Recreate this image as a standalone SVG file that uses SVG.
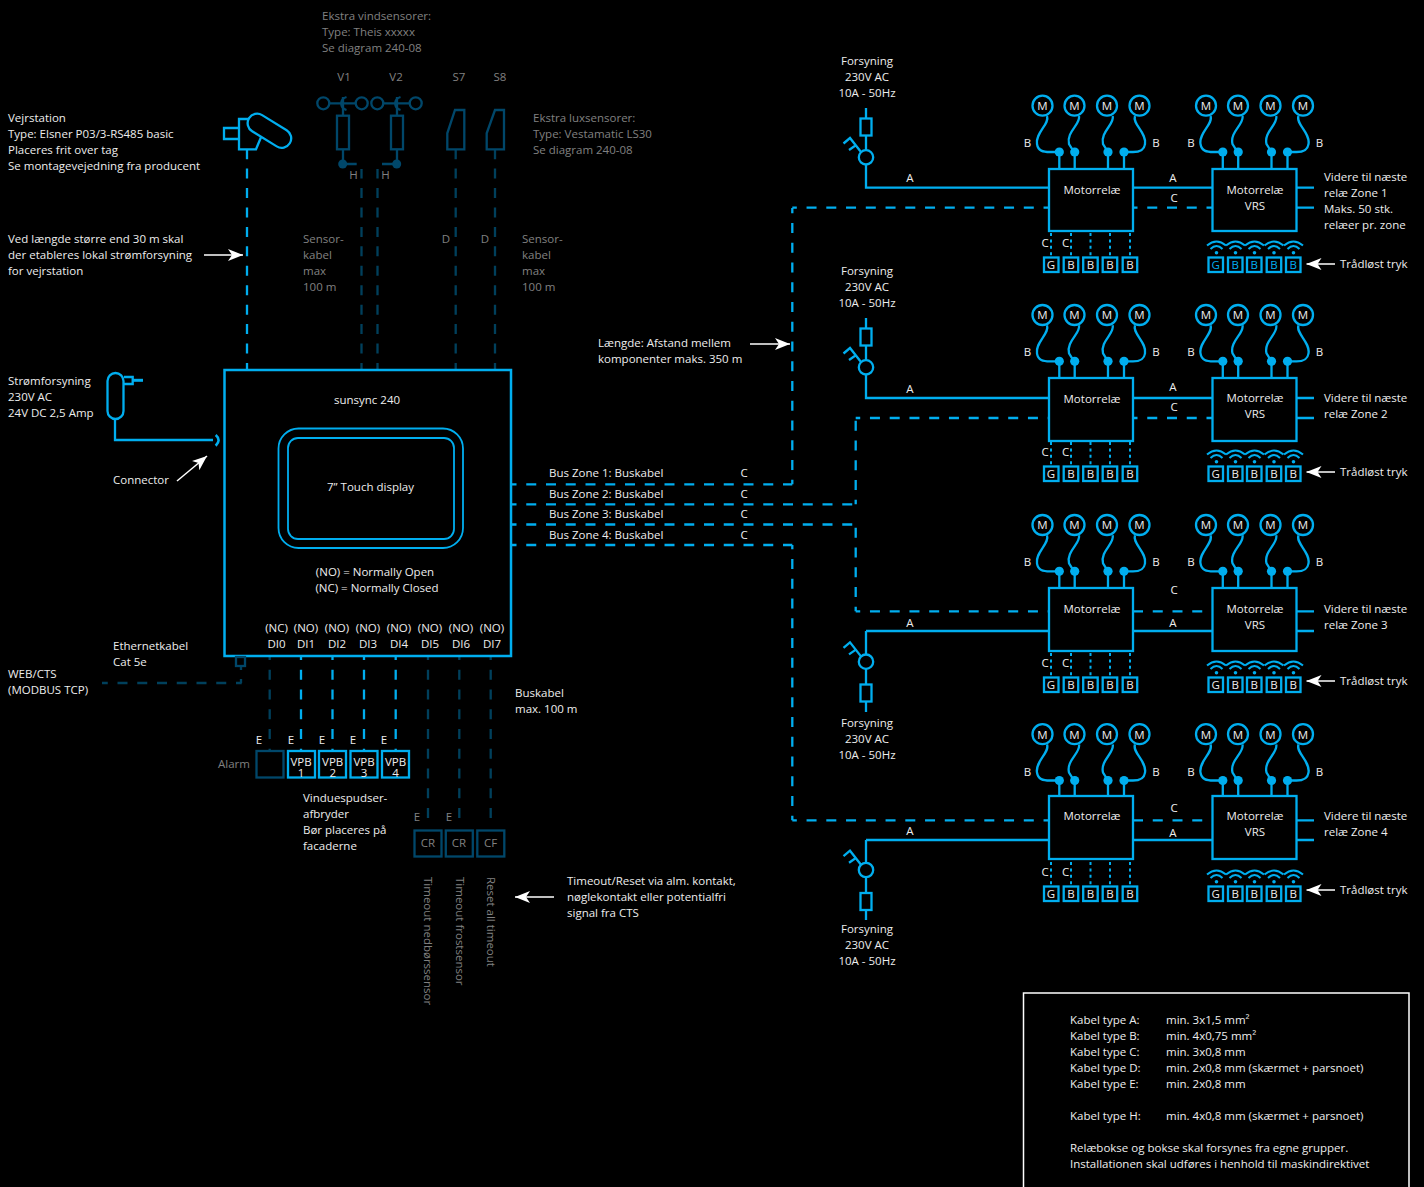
<svg xmlns="http://www.w3.org/2000/svg" width="1424" height="1187" viewBox="0 0 1424 1187">
<style>
text{font-family:"Open Sans","Noto Sans","Liberation Sans",sans-serif;font-size:11.5px;fill:#ededed}
.g{fill:#808080}
.m{text-anchor:middle}
.s{fill:none;stroke:#00aeef;stroke-width:2.3}
.th{fill:none;stroke:#00aeef;stroke-width:1.8}
.w{fill:none;stroke:#00aeef;stroke-width:2}
.d{fill:none;stroke:#00476a;stroke-width:2.3}
.bd{fill:none;stroke:#00aeef;stroke-width:2.3;stroke-dasharray:10 9.75;stroke-dashoffset:5.5}
.b0{stroke-dashoffset:0}
.dd{fill:none;stroke:#00405c;stroke-width:2.3;stroke-dasharray:10 9.75;stroke-dashoffset:6}
.v{stroke-dasharray:10 9.44;stroke-dashoffset:3}
.dot{fill:none;stroke:#00aeef;stroke-width:2;stroke-dasharray:3 3.4}
.f{fill:#00aeef;stroke:none}
.a{fill:none;stroke:#fff;stroke-width:1.5;marker-end:url(#arr)}
.b{fill:#000;stroke:#00aeef;stroke-width:2.3}
.bl{fill:#00aeef}
</style>
<defs>
<marker id="arr" markerUnits="userSpaceOnUse" markerWidth="15" markerHeight="12" refX="15" refY="6" orient="auto"><path d="M0 0L15 6L0 12L4 6Z" fill="#fff"/></marker>
<g id="motors">
<circle class="s" cx="1042.5" cy="105.7" r="10"/><circle class="s" cx="1074.5" cy="105.7" r="10"/><circle class="s" cx="1107" cy="105.7" r="10"/><circle class="s" cx="1139.5" cy="105.7" r="10"/>
<text class="m" x="1042.5" y="110">M</text><text class="m" x="1074.5" y="110">M</text><text class="m" x="1107" y="110">M</text><text class="m" x="1139.5" y="110">M</text>
<path class="s" d="M1047 116C1050 124 1035 133 1037 144C1038 151 1043 152 1050 152L1059 152M1079 116C1081 124 1066 132 1069 144L1074 152M1112.7 116C1115 124 1100 132 1103 144L1108 152M1135 116C1132 124 1147 133 1145 144C1144 151 1139 152 1133 152L1124 152M1059.3 152V169M1074.7 152V169M1108 152V169M1124 152V169"/>
<circle class="f" cx="1059.3" cy="152" r="4.6"/><circle class="f" cx="1074.7" cy="152" r="4.6"/><circle class="f" cx="1108" cy="152" r="4.6"/><circle class="f" cx="1124" cy="152" r="4.6"/>
<text class="m" x="1027.5" y="147">B</text><text class="m" x="1156" y="147">B</text>
</g>
<g id="wiredRow">
<path class="dot" d="M1051 233V257M1071 233V257M1090.5 233V257M1110 233V257M1130 233V257"/>
<text class="m" x="1045" y="247">C</text><text class="m" x="1065.5" y="247">C</text>
<rect class="b" x="1044" y="257.5" width="14.5" height="14.5"/><rect class="b" x="1063.7" y="257.5" width="14.5" height="14.5"/><rect class="b" x="1083.2" y="257.5" width="14.5" height="14.5"/><rect class="b" x="1102.7" y="257.5" width="14.5" height="14.5"/><rect class="b" x="1122.7" y="257.5" width="14.5" height="14.5"/>
<text class="m" x="1051" y="269">G</text><text class="m" x="1071" y="269">B</text><text class="m" x="1090.5" y="269">B</text><text class="m" x="1110" y="269">B</text><text class="m" x="1130" y="269">B</text>
</g>
<g id="wifi"><path class="w" d="M-9.5 245.500Q0 237.500 9.500 245.500M-6 249Q0 243 6 249"/><circle class="f" cx="0" cy="252.700" r="1.800"/></g>
<g id="wifiRow">
<use href="#wifi" x="1216.500"/><use href="#wifi" x="1235.500"/><use href="#wifi" x="1254.500"/><use href="#wifi" x="1274"/><use href="#wifi" x="1293.500"/>
<rect class="b" x="1208.500" y="257.500" width="14.500" height="14.500"/><rect class="b" x="1228" y="257.500" width="14.500" height="14.500"/><rect class="b" x="1247" y="257.500" width="14.500" height="14.500"/><rect class="b" x="1266.700" y="257.500" width="14.500" height="14.500"/><rect class="b" x="1286" y="257.500" width="14.500" height="14.500"/>
</g>
<g id="wifiLabels"><text class="m" x="1215.700" y="269">G</text><text class="m" x="1235.300" y="269">B</text><text class="m" x="1254.300" y="269">B</text><text class="m" x="1274" y="269">B</text><text class="m" x="1293.300" y="269">B</text></g>
<g id="wifiLabelsBlue"><text class="m bl" x="1215.700" y="269">G</text><text class="m bl" x="1235.300" y="269">B</text><text class="m bl" x="1254.300" y="269">B</text><text class="m bl" x="1274" y="269">B</text><text class="m bl" x="1293.300" y="269">B</text></g>
<rect id="fuse" class="s" x="860.500" y="118.500" width="11" height="17"/>
<g id="breaker">
<circle class="s" cx="866" cy="157.300" r="7.200"/>
<path class="s" d="M861 152L850 138L843.500 143.500M849 150L855.500 145.500"/>
</g>
</defs>
<rect width="1424" height="1187" fill="#000"/>

<g id="connectors">
<path class="bd v" d="M247 370V149"/>
<path class="dd v" d="M361.500 370V169M377.500 370V169"/>
<path class="dd v" d="M455.700 370V149M495 370V149"/>
<path class="s" d="M115 419V440H213"/>
<path class="d" stroke-dasharray="4 9 4" style="stroke:#00405c" d="M241 666V683"/>
<path class="dd" style="stroke-dashoffset:4.300" d="M241.700 683H102"/>
<path class="dd" d="M269.700 656V751"/>
<path class="bd" style="stroke-dashoffset:6" d="M301 656V751M332.500 656V751M364 656V751M395.700 656V751"/>
<path class="dd" d="M428 656V822M459.300 656V822M490.700 656V822"/>
<path class="bd" d="M512 484.300H792.300M792.300 484.300V208M792.300 207.700H1049"/>
<path class="bd" d="M512 504.300H855.700M855.700 504.300V417.700M855.700 418H1049"/>
<path class="bd" d="M512 524.500H855.700M855.700 611.300V524.500M855.700 611.300H1049"/>
<path class="bd" d="M512 545H792.300M792.300 820.300V545M792.300 820.300H1049"/>
<path class="s" d="M866 108V119M866 135V150M866 165V187.700H1049M1133 187.700H1213M1296 187.700H1314M1296 207.700H1314"/>
<path class="bd" d="M1133 207.700H1212.500"/>
<path class="s" d="M866 318V329M866 345V360M866 375V398H1049M1133 398H1213M1296 398H1314M1296 418H1314"/>
<path class="bd" d="M1133 418H1212.500"/>
<path class="s" d="M866 631V654.500M866 631H1049M1133 631H1213M1296 631H1314M1296 611.300H1314M866 669V685M866 701V712"/>
<path class="bd b0" d="M1133 611.300H1212.500"/>
<path class="s" d="M866 840V863M866 840H1049M1133 840H1213M1296 840H1314M1296 820.300H1314M866 877V893M866 910V920"/>
<path class="bd b0" d="M1133 820.300H1212.500"/>
<use href="#wiredRow"/><use href="#wiredRow" y="209"/><use href="#wiredRow" y="420"/><use href="#wiredRow" y="629"/>
<path class="a" d="M204 255H243"/>
<path class="a" d="M750 344H790"/>
<path class="a" d="M177 481L207 456"/>
<path class="a" d="M554 897H515"/>
<path class="a" d="M1335 264H1306.500"/>
<path class="a" d="M1335 472H1306.500"/>
<path class="a" d="M1335 681H1306.500"/>
<path class="a" d="M1335 890H1306.500"/>
</g>

<g id="weather-station">
<path class="s" d="M239 128H224V139H239M251 119H239V149.300H256L261 137.300"/>
<rect class="b" x="-24" y="-9.500" width="47.800" height="19" rx="9.500" transform="translate(269.500 130.800) rotate(31.600)"/>
<text x="8" y="122">Vejrstation</text><text x="8" y="138">Type: Elsner P03/3-RS485 basic</text><text x="8" y="154">Placeres frit over tag</text><text x="8" y="170">Se montagevejedning fra producent</text>
</g>
<g id="wind-sensors">
<circle class="d" cx="323.300" cy="103.300" r="6"/><circle class="d" cx="361.700" cy="103.300" r="6"/><circle class="d" cx="377.300" cy="103.300" r="6"/><circle class="d" cx="415.700" cy="103.300" r="6"/>
<path class="d" d="M329.300 103.300H355.700M383.300 103.300H409.700"/>
<path class="d" d="M346.500 97C339.500 99 339.500 108 346.500 110M400.500 97C393.500 99 393.500 108 400.500 110"/>
<path class="d" d="M343 97V116M397 97V116"/>
<rect class="d" x="337" y="115.700" width="12" height="33.600"/><rect class="d" x="391" y="115.700" width="12" height="33.600"/>
<path class="d" d="M343 149.300V164H356.700M397 149.300V164H382"/>
<circle cx="342.700" cy="164" r="4.500" fill="#00476a"/><circle cx="396.700" cy="164" r="4.500" fill="#00476a"/>
<text class="g" x="322" y="20">Ekstra vindsensorer:</text><text class="g" x="322" y="36">Type: Theis xxxxx</text><text class="g" x="322" y="52">Se diagram 240-08</text>
<text class="g m" x="344" y="81">V1</text><text class="g m" x="396" y="81">V2</text>
<text class="g m" x="353.500" y="179">H</text><text class="g m" x="385.500" y="179">H</text>
<text class="g" x="303" y="243">Sensor-</text><text class="g" x="303" y="259">kabel</text><text class="g" x="303" y="275">max</text><text class="g" x="303" y="291">100 m</text>
</g>
<g id="lux-sensors">
<path class="d" d="M455 110H464.300V149.300H447.300V133.300Z"/><path class="d" d="M495 110H504V149.300H486.700V133.300Z"/>
<text class="g m" x="459" y="81">S7</text><text class="g m" x="500" y="81">S8</text>
<text class="g" x="533" y="122">Ekstra luxsensorer:</text><text class="g" x="533" y="138">Type: Vestamatic LS30</text><text class="g" x="533" y="154">Se diagram 240-08</text>
<text class="g m" x="446" y="243">D</text><text class="g m" x="485" y="243">D</text>
<text class="g" x="522" y="243">Sensor-</text><text class="g" x="522" y="259">kabel</text><text class="g" x="522" y="275">max</text><text class="g" x="522" y="291">100 m</text>
</g>
<g id="power-supply">
<rect class="s" x="107.500" y="373" width="16" height="46" rx="8"/>
<path class="s" d="M124 377H132.700V384H124"/><path class="s" d="M132.700 380.300H143" style="stroke-width:3"/>
<path class="s" d="M215.700 435Q221.500 440 215.700 445.700" style="stroke-width:2.600"/>
<text x="8" y="385">Strømforsyning</text><text x="8" y="401">230V AC</text><text x="8" y="417">24V DC 2,5 Amp</text>
<text x="113" y="484">Connector</text>
</g>
<text x="8" y="243">Ved længde større end 30 m skal</text><text x="8" y="259">der etableres lokal strømforsyning</text><text x="8" y="275">for vejrstation</text>

<g id="sunsync">
<rect class="s" x="224.500" y="370" width="286.500" height="286" style="stroke-width:2.500"/>
<text class="m" x="367" y="404">sunsync 240</text>
<rect class="th" x="278.500" y="428.500" width="184.500" height="119.500" rx="20"/>
<rect class="th" x="288" y="438" width="166" height="101" rx="10"/>
<text class="m" x="370.500" y="491">7” Touch display</text>
<text class="m" x="375" y="576">(NO) = Normally Open</text><text class="m" x="377" y="592">(NC) = Normally Closed</text>
<text class="m" x="276.500" y="632">(NC)</text><text class="m" x="306" y="632">(NO)</text><text class="m" x="337" y="632">(NO)</text><text class="m" x="368" y="632">(NO)</text><text class="m" x="399" y="632">(NO)</text><text class="m" x="430" y="632">(NO)</text><text class="m" x="461" y="632">(NO)</text><text class="m" x="492" y="632">(NO)</text>
<text class="m" x="276.500" y="648">DI0</text><text class="m" x="306" y="648">DI1</text><text class="m" x="337" y="648">DI2</text><text class="m" x="368" y="648">DI3</text><text class="m" x="399" y="648">DI4</text><text class="m" x="430" y="648">DI5</text><text class="m" x="461" y="648">DI6</text><text class="m" x="492" y="648">DI7</text>
<rect class="d" x="236" y="657" width="9" height="9"/>
</g>
<g id="ethernet"><text x="113" y="650">Ethernetkabel</text><text x="113" y="666">Cat 5e</text><text x="8" y="678">WEB/CTS</text><text x="8" y="694">(MODBUS TCP)</text></g>

<g id="bus-labels">
<text x="549" y="477">Bus Zone 1: Buskabel</text><text x="549" y="498">Bus Zone 2: Buskabel</text><text x="549" y="518">Bus Zone 3: Buskabel</text><text x="549" y="539">Bus Zone 4: Buskabel</text>
<text class="m" x="744" y="477">C</text><text class="m" x="744" y="498">C</text><text class="m" x="744" y="518">C</text><text class="m" x="744" y="539">C</text>
<text x="598" y="347">Længde: Afstand mellem</text><text x="598" y="363">komponenter maks. 350 m</text>
</g>

<g id="inputs">
<rect class="d" x="256.500" y="751" width="27" height="26.500"/>
<rect class="s" x="288" y="751" width="27" height="26.500"/><rect class="s" x="319" y="751" width="27" height="26.500"/><rect class="s" x="350.500" y="751" width="27" height="26.500"/><rect class="s" x="382" y="751" width="27" height="26.500"/>
<text class="g" x="218" y="768">Alarm</text>
<text class="m" x="259" y="744">E</text><text class="m" x="291" y="744">E</text><text class="m" x="322" y="744">E</text><text class="m" x="353" y="744">E</text><text class="m" x="384" y="744">E</text>
<text class="m" x="301" y="766">VPB</text><text class="m" x="301" y="777">1</text><text class="m" x="332.700" y="766">VPB</text><text class="m" x="332.700" y="777">2</text><text class="m" x="364" y="766">VPB</text><text class="m" x="364" y="777">3</text><text class="m" x="395.500" y="766">VPB</text><text class="m" x="395.500" y="777">4</text>
<text x="303" y="802">Vinduespudser-</text><text x="303" y="818">afbryder</text><text x="303" y="834">Bør placeres på</text><text x="303" y="850">facaderne</text>
<text x="515" y="697">Buskabel</text><text x="515" y="713">max. 100  m</text>
<rect class="d" x="414.500" y="830.500" width="27" height="26"/><rect class="d" x="445.800" y="830.500" width="27" height="26"/><rect class="d" x="477.300" y="830.500" width="27" height="26"/>
<text class="g m" x="428" y="847">CR</text><text class="g m" x="459" y="847">CR</text><text class="g m" x="490.500" y="847">CF</text>
<text class="g m" x="417" y="821">E</text><text class="g m" x="449" y="821">E</text>
<text class="g" transform="translate(424 877) rotate(90)">Timeout nedbørssensor</text>
<text class="g" transform="translate(456 877) rotate(90)">Timeout frostsensor</text>
<text class="g" transform="translate(487 877) rotate(90)">Reset all timeout</text>
<text x="567" y="885">Timeout/Reset via alm. kontakt,</text><text x="567" y="901">nøglekontakt eller potentialfri</text><text x="567" y="917">signal fra CTS</text>
</g>

<g id="zone-1">
<use href="#fuse"/><use href="#breaker"/>
<text class="m" x="867" y="65">Forsyning</text><text class="m" x="867" y="81">230V AC</text><text class="m" x="867" y="97">10A - 50Hz</text>
<use href="#motors"/><use href="#motors" x="163.500"/>
<rect class="b" x="1049" y="169" width="84" height="62"/><rect class="b" x="1212.500" y="169" width="84" height="62"/>
<text class="m" x="1092" y="194">Motorrelæ</text><text class="m" x="1255" y="194">Motorrelæ</text><text class="m" x="1255" y="210">VRS</text>
<text class="m" x="910" y="182">A</text><text class="m" x="1173" y="182">A</text><text class="m" x="1174" y="202">C</text>
<text x="1324" y="181">Videre til næste</text><text x="1324" y="197">relæ Zone 1</text><text x="1324" y="213">Maks. 50 stk.</text><text x="1324" y="229">relæer pr. zone</text>
<use href="#wifiRow"/><use href="#wifiLabelsBlue"/>
<text x="1340" y="268">Trådløst tryk</text>
</g>
<g id="zone-2">
<use href="#fuse" y="210"/><use href="#breaker" y="210"/>
<text class="m" x="867" y="275">Forsyning</text><text class="m" x="867" y="291">230V AC</text><text class="m" x="867" y="307">10A - 50Hz</text>
<use href="#motors" y="209.300"/><use href="#motors" x="163.500" y="209.300"/>
<rect class="b" x="1049" y="378" width="84" height="63"/><rect class="b" x="1212.500" y="378" width="84" height="63"/>
<text class="m" x="1092" y="403">Motorrelæ</text><text class="m" x="1255" y="402">Motorrelæ</text><text class="m" x="1255" y="418">VRS</text>
<text class="m" x="910" y="393">A</text><text class="m" x="1173" y="391">A</text><text class="m" x="1174" y="411">C</text>
<text x="1324" y="402">Videre til næste</text><text x="1324" y="418">relæ Zone 2</text>
<use href="#wifiRow" y="209"/><use href="#wifiLabels" y="209"/>
<text x="1340" y="476">Trådløst tryk</text>
</g>
<g id="zone-3">
<use href="#fuse" y="566"/><use href="#breaker" y="504.400"/>
<text class="m" x="867" y="727">Forsyning</text><text class="m" x="867" y="743">230V AC</text><text class="m" x="867" y="759">10A - 50Hz</text>
<use href="#motors" y="419.300"/><use href="#motors" x="163.500" y="419.300"/>
<rect class="b" x="1049" y="588" width="84" height="63"/><rect class="b" x="1212.500" y="588" width="84" height="63"/>
<text class="m" x="1092" y="613">Motorrelæ</text><text class="m" x="1255" y="613">Motorrelæ</text><text class="m" x="1255" y="629">VRS</text>
<text class="m" x="910" y="627">A</text><text class="m" x="1173" y="627">A</text><text class="m" x="1174" y="594">C</text>
<text x="1324" y="613">Videre til næste</text><text x="1324" y="629">relæ Zone 3</text>
<use href="#wifiRow" y="420"/><use href="#wifiLabels" y="420"/>
<text x="1340" y="685">Trådløst tryk</text>
</g>
<g id="zone-4">
<use href="#fuse" y="774.500"/><use href="#breaker" y="712.700"/>
<text class="m" x="867" y="933">Forsyning</text><text class="m" x="867" y="949">230V AC</text><text class="m" x="867" y="965">10A - 50Hz</text>
<use href="#motors" y="628.500"/><use href="#motors" x="163.500" y="628.500"/>
<rect class="b" x="1049" y="796" width="84" height="63"/><rect class="b" x="1212.500" y="796" width="84" height="63"/>
<text class="m" x="1092" y="820">Motorrelæ</text><text class="m" x="1255" y="820">Motorrelæ</text><text class="m" x="1255" y="836">VRS</text>
<text class="m" x="910" y="835">A</text><text class="m" x="1173" y="837">A</text><text class="m" x="1174" y="812">C</text>
<text x="1324" y="820">Videre til næste</text><text x="1324" y="836">relæ Zone 4</text>
<use href="#wifiRow" y="629"/><use href="#wifiLabels" y="629"/>
<text x="1340" y="894">Trådløst tryk</text>
</g>

<g id="legend">
<rect x="1023.500" y="993" width="385.500" height="196" fill="none" stroke="#fff" stroke-width="1.500"/>
<text x="1070" y="1024">Kabel type A:</text><text x="1166" y="1024">min. 3x1,5 mm²</text>
<text x="1070" y="1040">Kabel type B:</text><text x="1166" y="1040">min. 4x0,75 mm²</text>
<text x="1070" y="1056">Kabel type C:</text><text x="1166" y="1056">min. 3x0,8 mm</text>
<text x="1070" y="1072">Kabel type D:</text><text x="1166" y="1072">min. 2x0,8 mm (skærmet + parsnoet)</text>
<text x="1070" y="1088">Kabel type E:</text><text x="1166" y="1088">min. 2x0,8 mm</text>
<text x="1070" y="1120">Kabel type H:</text><text x="1166" y="1120">min. 4x0,8 mm (skærmet + parsnoet)</text>
<text x="1070" y="1152">Relæbokse og bokse skal forsynes fra egne grupper.</text>
<text x="1070" y="1168">Installationen skal udføres i henhold til maskindirektivet</text>
</g>
</svg>
